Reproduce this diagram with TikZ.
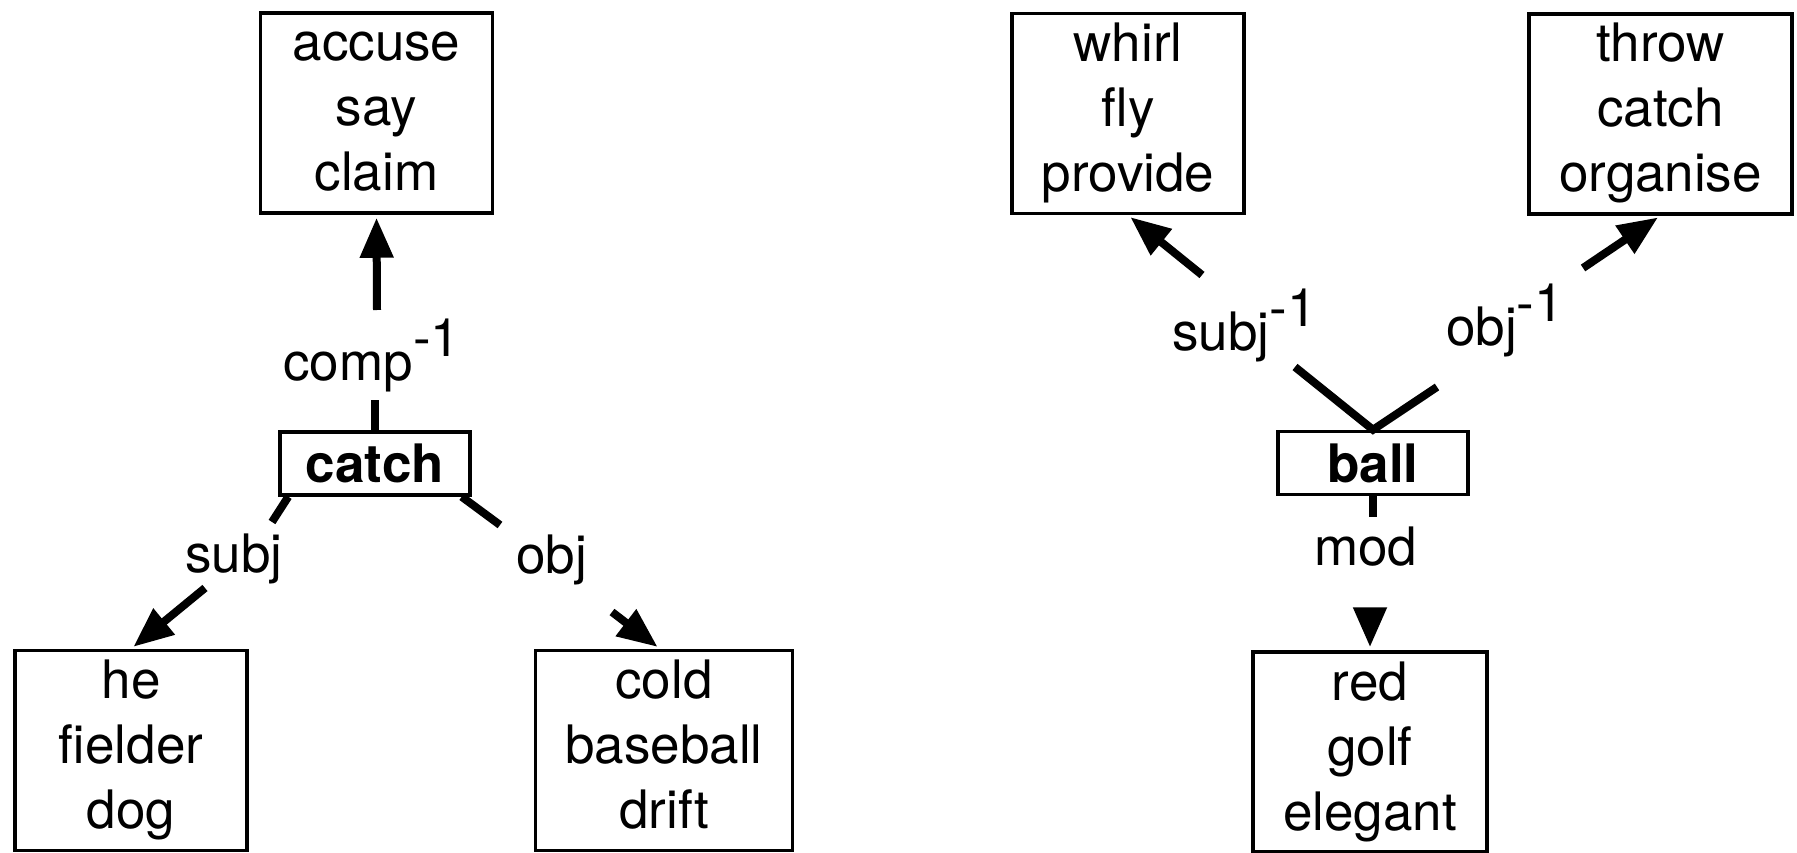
\documentclass[tikz,border=0pt]{standalone}
\usepackage{fontspec}
\setmainfont{TeX Gyre Heros}
\usetikzlibrary{arrows.meta}
\newcommand{\supone}{\raisebox{0.45em}{-1}}
\tikzset{
  wbox/.style={draw, line width=3.5pt, align=center, minimum width=232pt,
    minimum height=200pt, inner xsep=30pt, inner ysep=0pt,
    font=\fontsize{53}{65}\selectfont},
  hbox/.style={draw, line width=3.5pt, minimum width=190pt, minimum height=63pt,
    inner sep=0pt, font=\fontsize{53}{65}\selectfont\bfseries},
  lbl/.style={inner sep=0pt, anchor=base west, font=\fontsize{53}{65}\selectfont},
  conn/.style={line width=8pt},
  arr/.style={line width=8pt, -{Triangle[length=40pt,width=32pt]}, shorten >=3pt},
}
\begin{document}
\begin{tikzpicture}[x=1pt,y=-1pt]
\useasboundingbox (0,0) rectangle (1797,853);
% left tree
\node[wbox] (accuse) at (376.5,113) {\strut accuse\\\strut say\\\strut claim};
\node[hbox] (catch) at (375,463.5) {catch};
\node[wbox] (he) at (131,750.5) {\strut he\\\strut fielder\\\strut dog};
\node[wbox] (cold) at (664,750.5) {\strut cold\\\strut baseball\\\strut drift};
% right tree
\node[wbox] (whirl) at (1128,113.5) {\strut whirl\\\strut fly\\\strut provide};
\node[wbox] (throw) at (1660.5,114) {\strut throw\\\strut catch\\\strut organise};
\node[hbox] (ball) at (1373,463) {ball};
\node[wbox] (red) at (1370,752) {\strut red\\\strut golf\\\strut elegant};
% labels
\node[lbl] (lcomp) at (283,380) {comp\supone};
\node[lbl] (lsubj) at (185,572) {subj};
\node[lbl] (lobj) at (516,573) {obj};
\node[lbl] (lsubjinv) at (1172,350) {subj\supone};
\node[lbl] (lobjinv) at (1446,345) {obj\supone};
\node[lbl] (lmod) at (1314,565) {mod};
% coordinates for broken connectors
\coordinate (c1) at (375,400);
\coordinate (c2) at (377,310);
\coordinate (s1) at (272,522);
\coordinate (s2) at (205,588);
\coordinate (o1) at (500,525);
\coordinate (o2) at (612,612);
\coordinate (r1) at (1295,367);
\coordinate (r2) at (1202,275);
\coordinate (r3) at (1437,387);
\coordinate (r4) at (1583,268);
\coordinate (m1) at (1373,517);
\coordinate (m2) at (1370,608);
% connectors
\draw[conn] (catch.north) -- (c1);
\draw[arr] (c2) -- (accuse.south);
\draw[conn] ([xshift=10pt]catch.south west) -- (s1);
\draw[arr] (s2) -- (he.north);
\draw[conn] ([xshift=-10pt]catch.south east) -- (o1);
\draw[arr] (o2) -- ([xshift=-4pt]cold.north);
\draw[conn] (r1) -- (ball.north) -- (r3);
\draw[arr] (r2) -- (whirl.south);
\draw[arr] (r4) -- (throw.south);
\draw[conn] (ball.south) -- (m1);
\draw[arr] (m2) -- (red.north);
\end{tikzpicture}
\end{document}
